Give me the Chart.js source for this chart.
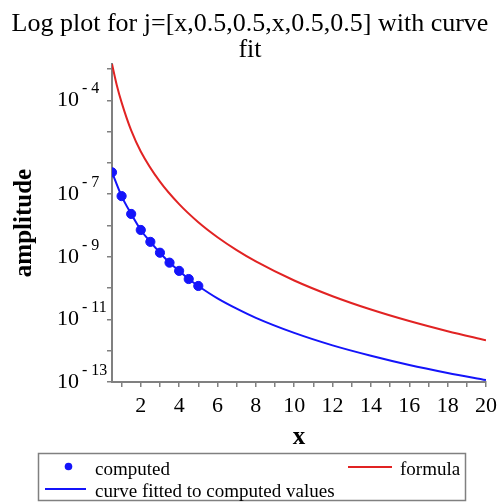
<!DOCTYPE html>
<html><head><meta charset="utf-8">
<script src="https://cdn.jsdelivr.net/npm/chart.js@4.4.1/dist/chart.umd.min.js"></script>
<style>html,body{margin:0;padding:0;background:#fff;} #wrap{width:503px;height:502px;position:relative;} canvas{display:block;}</style>
</head><body><div id="wrap"><canvas id="c" width="503" height="502"></canvas></div>
<script>
// ---- data ----
const computedX = [0.5, 1, 1.5, 2, 2.5, 3, 3.5, 4, 4.5, 5];
const computedY = [5.0e-7, 8.7e-8, 2.34e-8, 7.2e-9, 3.0e-9, 1.35e-9, 6.5e-10, 3.55e-10, 1.95e-10, 1.17e-10];
const fitX = [0.5, 1, 1.5, 2, 2.5, 3, 3.5, 4, 4.5, 5, 6, 7, 8, 10, 12, 14, 16, 18, 20];
const fitY = [5.0e-7, 8.7e-8, 2.34e-8, 7.2e-9, 3.0e-9, 1.35e-9, 6.5e-10, 3.55e-10, 1.95e-10, 1.17e-10,
              4.7e-11, 2.2e-11, 1.12e-11, 3.7e-12, 1.48e-12, 6.9e-13, 3.5e-13, 1.95e-13, 1.15e-13];
const formulaX = [0.5, 0.75, 1, 1.5, 2, 3, 4, 5, 6, 7, 8, 10, 12, 14, 16, 18, 20];
const formulaY = [1.45e-3, 3.05e-4, 8.6e-5, 1.09e-5, 2.33e-6, 2.51e-7, 4.8e-8, 1.27e-8, 4.22e-9, 1.64e-9,
                  7.14e-10, 1.75e-10, 5.51e-11, 2.07e-11, 8.87e-12, 4.2e-12, 2.15e-12];
const xTickValues = [1,2,3,4,5,6,7,8,9,10,11,12,13,14,15,16,17,18,19,20];
const xLabelValues = [2,4,6,8,10,12,14,16,18,20];
const yTickExps = [-13,-12,-11,-10,-9,-8,-7,-6,-5,-4,-3];
const yLabelExps = [-4,-7,-9,-11,-13];
const titleLines = ['Log plot for j=[x,0.5,0.5,x,0.5,0.5] with curve', 'fit'];
const legendLabels = ['computed', 'formula', 'curve fitted to computed values'];

const FONT = "'Liberation Serif', 'Times New Roman', serif";
const AXIS_GRAY = '#808080';
const RED = 'rgb(225,35,35)';
const BLUE = 'rgb(20,20,250)';

const pts = (xs, ys) => xs.map((x, i) => ({x: x, y: ys[i]}));

const overlay = {
  id: 'overlay',
  afterDraw(chart) {
    const ctx = chart.ctx;
    const ys = chart.scales.y;
    ctx.save();
    ctx.fillStyle = '#000';
    // y tick labels 10^e
    yLabelExps.forEach(e => {
      const py = ys.getPixelForValue(Math.pow(10, e));
      ctx.font = '22px ' + FONT;
      ctx.textAlign = 'right';
      ctx.textBaseline = 'alphabetic';
      ctx.fillText('10', 79, py + 6);
      ctx.font = '16px ' + FONT;
      ctx.textAlign = 'left';
      ctx.fillText('- ' + Math.abs(e), 82, py - 7);
    });
    // legend
    ctx.strokeStyle = '#808080';
    ctx.lineWidth = 1.5;
    ctx.strokeRect(38.5, 453.5, 427, 47);
    ctx.font = '19px ' + FONT;
    ctx.textAlign = 'left';
    ctx.textBaseline = 'alphabetic';
    ctx.fillStyle = '#000';
    ctx.fillText(legendLabels[0], 95, 475);
    ctx.fillText(legendLabels[1], 400, 475);
    ctx.fillText(legendLabels[2], 95, 496.5);
    ctx.fillStyle = BLUE;
    ctx.beginPath(); ctx.arc(68.5, 466.5, 3.8, 0, Math.PI * 2); ctx.fill();
    ctx.lineWidth = 2;
    ctx.strokeStyle = RED;
    ctx.beginPath(); ctx.moveTo(348, 467); ctx.lineTo(392, 467); ctx.stroke();
    ctx.strokeStyle = BLUE;
    ctx.beginPath(); ctx.moveTo(45, 489); ctx.lineTo(86, 489); ctx.stroke();
    ctx.restore();
  }
};

new Chart(document.getElementById('c'), {
  type: 'line',
  data: {
    datasets: [
      { label: legendLabels[0], data: pts(computedX, computedY), showLine: false,
        pointRadius: 4.6, pointBackgroundColor: BLUE, pointBorderColor: BLUE, borderColor: BLUE },
      { label: legendLabels[2], data: pts(fitX, fitY), borderColor: BLUE, borderWidth: 2,
        pointRadius: 0, cubicInterpolationMode: 'monotone', fill: false },
      { label: legendLabels[1], data: pts(formulaX, formulaY), borderColor: RED, borderWidth: 2,
        pointRadius: 0, cubicInterpolationMode: 'monotone', fill: false }
    ]
  },
  options: {
    responsive: false,
    animation: false,
    devicePixelRatio: 1,
    layout: { padding: { left: 10, right: 13, top: 0, bottom: 49 } },
    plugins: {
      legend: { display: false },
      tooltip: { enabled: false },
      title: {
        display: true, text: titleLines, color: '#000',
        font: { family: FONT, size: 26, weight: 'normal', lineHeight: 25.5/26 },
        padding: { top: 11.5, bottom: 1.5 }
      }
    },
    scales: {
      x: {
        type: 'linear', min: 0.5, max: 20,
        afterBuildTicks: s => { s.ticks = xTickValues.map(v => ({value: v})); },
        afterFit: s => { s.height = 71; },
        grid: { display: true, drawOnChartArea: false, drawTicks: true, tickLength: 5, color: AXIS_GRAY, lineWidth: 1.5 },
        border: { display: true, color: AXIS_GRAY, width: 2 },
        ticks: { autoSkip: false, maxRotation: 0, padding: 6, color: '#000',
          font: { family: FONT, size: 22 },
          callback: v => xLabelValues.includes(v) ? String(v) : '' },
        title: { display: true, text: 'x', color: '#000',
          font: { family: FONT, size: 25, weight: 'bold' }, padding: { top: 0, bottom: 0.5 } }
      },
      y: {
        type: 'logarithmic', min: 1e-13, max: Math.pow(10, -2.84),
        afterBuildTicks: s => { s.ticks = yTickExps.map(e => ({value: Math.pow(10, e)})); },
        afterFit: s => { s.width = 102; },
        grid: { display: true, drawOnChartArea: false, drawTicks: true, tickLength: 5, color: AXIS_GRAY, lineWidth: 1.5 },
        border: { display: true, color: AXIS_GRAY, width: 2 },
        ticks: { display: false },
        title: { display: true, text: 'amplitude', color: '#000',
          font: { family: FONT, size: 25, weight: 'bold' }, padding: { top: 0, bottom: 0 } }
      }
    }
  },
  plugins: [overlay]
});
</script>
</body></html>
